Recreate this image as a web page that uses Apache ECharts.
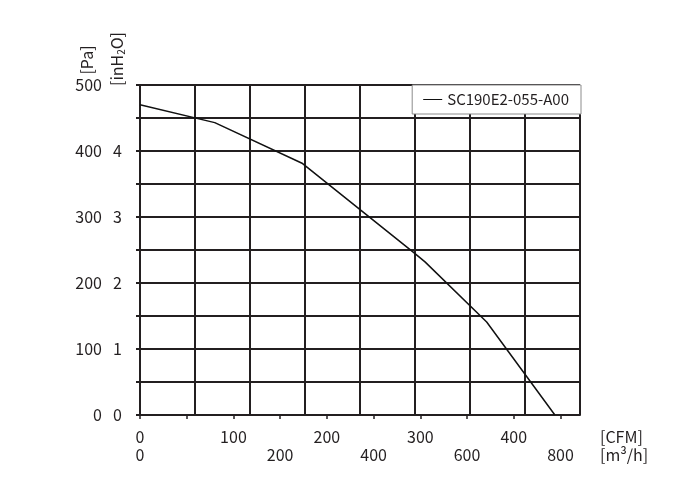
<!DOCTYPE html>
<html>
<head>
<meta charset="utf-8">
<script src="https://cdn.jsdelivr.net/npm/echarts@6/dist/echarts.min.js"></script>
<style>
  html, body { margin: 0; padding: 0; background: #fff; }
  #container { width: 700px; height: 494px; }
</style>
</head>
<body>
<div id="container"></div>
<script>
// curve: airflow in CFM, pressure in Pa
var seriesName = 'SC190E2-055-A00';
var flowCfm = [0, 80, 174, 294, 305, 371, 444];
var pressurePa = [470, 443, 381, 245, 232, 141, 0];

// axis labels
var cfmLabels = [0, 100, 200, 300, 400];
var m3hLabels = [0, 200, 400, 600, 800];
var m3hAtCfm = [0, 150, 250, 350, 450];   // where the m3/h labels sit under the CFM ticks
var paLabels = [0, 100, 200, 300, 400, 500];
var inh2oLabels = [0, 1, 2, 3, 4];

var ink = '#231f20';
var font = 'Noto Sans CJK SC';
var cfmMax = 800 / 1.699;   // grid spans 0..800 m3/h

var dom = document.getElementById('container');
var myChart = echarts.init(dom);

var data = [];
for (var i = 0; i < flowCfm.length; i++) {
    data.push([flowCfm[i], pressurePa[i]]);
}

function cfmFormatter(v) {
    var top = cfmLabels.indexOf(v) >= 0 ? String(v) : ' ';
    var k = m3hAtCfm.indexOf(v);
    var bottom = k >= 0 ? String(m3hLabels[k]) : ' ';
    return top + '\n' + bottom;
}

var option = {
    animation: false,
    textStyle: { fontFamily: font, color: ink },
    grid: { left: 140, right: 120, top: 85, bottom: 79 },
    legend: {
        data: [seriesName],
        right: 119,
        top: 85,
        backgroundColor: '#fff',
        borderColor: '#8c8c8c',
        borderWidth: 1,
        borderRadius: 0,
        padding: [6, 12, 6, 11],
        icon: 'rect',
        itemWidth: 19,
        itemHeight: 1,
        textStyle: { fontFamily: font, fontSize: 15, color: ink, lineHeight: 17 }
    },
    xAxis: [
        {   // m3/h grid
            type: 'value',
            min: 0,
            max: 800,
            interval: 100,
            position: 'bottom',
            axisLine: { show: true, lineStyle: { color: ink, width: 2 } },
            axisTick: { show: false },
            axisLabel: { show: false },
            splitLine: { show: true, lineStyle: { color: ink, width: 2 } }
        },
        {   // CFM scale with the m3/h row under it
            type: 'value',
            min: 0,
            max: cfmMax,
            interval: 50,
            position: 'bottom',
            name: '[CFM]\n[m³/h]',
            nameLocation: 'end',
            nameGap: 20,
            nameTextStyle: {
                fontFamily: font, fontSize: 16, color: ink,
                align: 'left', verticalAlign: 'top', lineHeight: 18,
                padding: [13, 0, 0, 0]
            },
            axisLine: { show: false },
            axisTick: { show: true, inside: false, length: 4, lineStyle: { color: ink, width: 1.5 } },
            axisLabel: {
                showMaxLabel: false,
                margin: 13,
                fontFamily: font,
                fontSize: 16,
                color: ink,
                lineHeight: 18,
                formatter: cfmFormatter
            },
            splitLine: { show: false }
        }
    ],
    yAxis: [
        {   // Pa
            type: 'value',
            min: 0,
            max: 500,
            interval: 50,
            position: 'left',
            axisLine: { show: true, lineStyle: { color: ink, width: 2 } },
            axisTick: { show: true, length: 4, lineStyle: { color: ink, width: 2 } },
            axisLabel: {
                margin: 38,
                fontFamily: font,
                fontSize: 16,
                color: ink,
                formatter: function (v) {
                    return paLabels.indexOf(v) >= 0 ? String(v) : '';
                }
            },
            splitLine: { show: true, lineStyle: { color: ink, width: 2 } }
        },
        {   // inH2O
            type: 'value',
            min: 0,
            max: 5,
            interval: 1,
            position: 'left',
            axisLine: { show: false },
            axisTick: { show: false },
            axisLabel: {
                showMaxLabel: false,
                margin: 18,
                fontFamily: font,
                fontSize: 16,
                color: ink,
                formatter: function (v) {
                    return inh2oLabels.indexOf(v) >= 0 ? String(v) : '';
                }
            },
            splitLine: { show: false }
        }
    ],
    graphic: [
        {
            type: 'text',
            x: 87,
            y: 60,
            rotation: Math.PI / 2,
            style: {
                text: '[Pa]',
                fontFamily: font,
                fontSize: 16,
                fill: ink,
                align: 'center',
                verticalAlign: 'middle'
            }
        },
        {
            type: 'text',
            x: 117,
            y: 59,
            rotation: Math.PI / 2,
            style: {
                text: '[inH{s|2}O]',
                fontFamily: font,
                fontSize: 16,
                fill: ink,
                align: 'center',
                verticalAlign: 'middle',
                rich: {
                    s: { fontFamily: font, fontSize: 10, fill: ink, padding: [8, 0, 0, 0] }
                }
            }
        }
    ],
    series: [
        {
            name: seriesName,
            type: 'line',
            xAxisIndex: 1,
            yAxisIndex: 0,
            symbol: 'none',
            smooth: false,
            color: '#111',
            lineStyle: { color: '#111', width: 1.5 },
            z: 5,
            data: data
        }
    ]
};

myChart.setOption(option, true);
</script>
</body>
</html>
